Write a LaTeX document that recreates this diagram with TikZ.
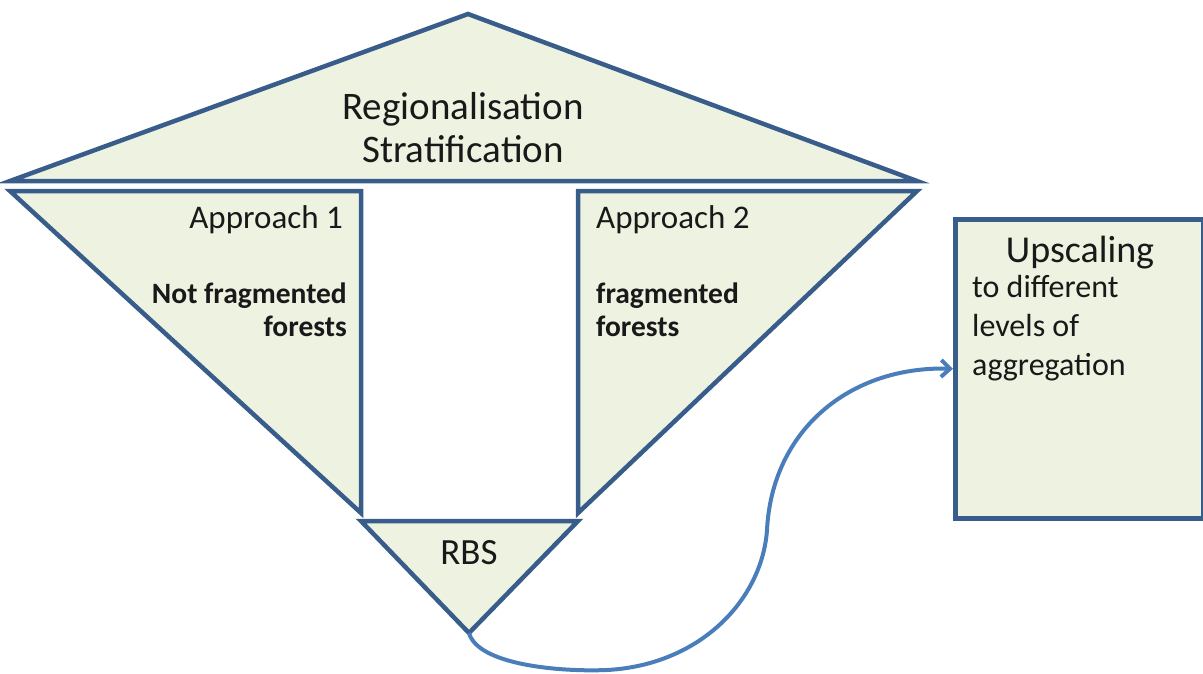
\documentclass[tikz,border=0pt]{standalone}
\usepackage{fontspec}
\setmainfont{Carlito}
\usetikzlibrary{arrows.meta}
\definecolor{edge}{HTML}{385D8A}
\definecolor{pale}{HTML}{EEF2E1}
\definecolor{arrowblue}{HTML}{4A7EBB}
\tikzset{
  panel/.style={draw=edge, fill=pale, line width=4.5pt, line join=miter},
  txt/.style={inner sep=0pt, text=black!90},
  conn/.style={draw=arrowblue, line width=4pt, -{Straight Barb[length=9pt,width=17pt,line width=4pt]}},
}
\begin{document}
\begin{tikzpicture}[x=1pt,y=-1pt]
\useasboundingbox (0,0) rectangle (1203,673);
% shapes
\draw[panel] (468,14) -- (917,181) -- (10,181) -- cycle;
\draw[panel] (10,191) -- (361,191) -- (361,513) -- cycle;
\draw[panel] (578,191) -- (917,191) -- (578,513) -- cycle;
\draw[panel] (361,521) -- (578,521) -- (469,633) -- cycle;
\coordinate (rbsapex) at (469,633);
% box
\fill[gray!40] (957,221) rectangle (1203,521);
\node[panel, rectangle, anchor=north west, minimum width=248pt, minimum height=299pt, inner sep=0pt] (up) at (953,217) {};
% texts
\node[txt, anchor=base, align=center, font=\fontsize{39}{43}\selectfont] (reg) at (463,162) {Regionalisation\\Stratification};
\node[txt, anchor=base east, font=\fontsize{33}{38}\selectfont] (ap1) at (343,228) {Approach 1};
\node[txt, anchor=base east, align=right, font=\fontsize{29.5}{33}\selectfont\bfseries] (nf) at (347,336) {Not fragmented\\forests};
\node[txt, anchor=base west, font=\fontsize{33}{38}\selectfont] (ap2) at (596,228) {Approach 2};
\node[txt, anchor=base west, align=left, font=\fontsize{29.5}{33}\selectfont\bfseries] (fr) at (596,336) {fragmented\\forests};
\node[txt, anchor=base, font=\fontsize{37}{40}\selectfont] (rbs) at (469,564) {RBS};
\node[txt, anchor=base, font=\fontsize{38}{44}\selectfont] (ups) at (1080,262) {Upscaling};
\node[txt, anchor=base west, align=left, font=\fontsize{32}{39}\selectfont] (lev) at (972,375) {to different\\levels of\\aggregation};
% connector
\draw[conn] (rbsapex) .. controls (478,665) and (560,672) .. (607,670) .. controls (700,665) and (762,600) .. (767,530) .. controls (772,430) and (850,366) .. (up.west);
\end{tikzpicture}
\end{document}
